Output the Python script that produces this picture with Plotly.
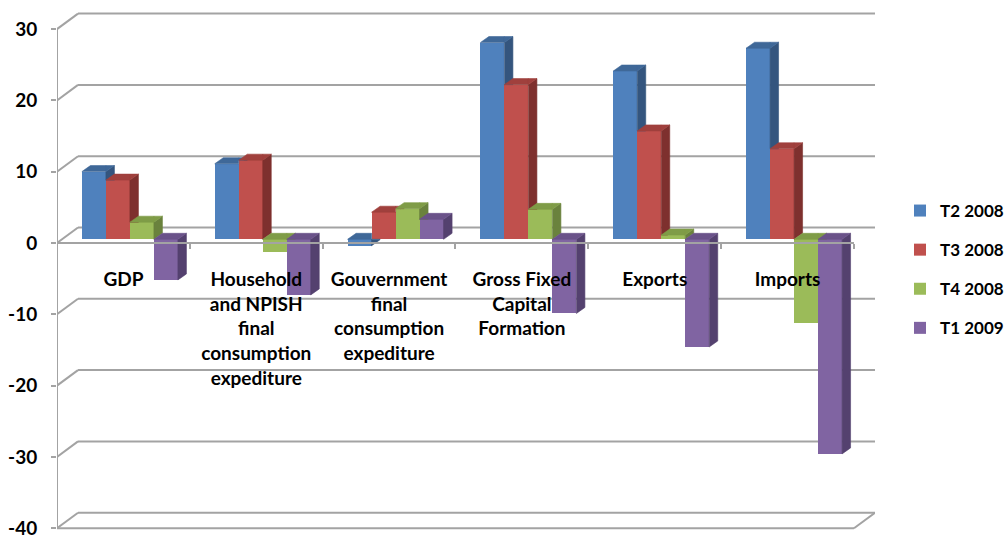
import plotly.graph_objects as go

# ---- data -------------------------------------------------------------
categories = ["GDP", "Household and NPISH final consumption expediture",
              "Gouvernment final consumption expediture",
              "Gross Fixed Capital Formation", "Exports", "Imports"]
tick_labels = ["GDP",
               "Household<br>and NPISH<br>final<br>consumption<br>expediture",
               "Gouvernment<br>final<br>consumption<br>expediture",
               "Gross Fixed<br>Capital<br>Formation",
               "Exports", "Imports"]
series_names = ["T2 2008", "T3 2008", "T4 2008", "T1 2009"]
t2_2008 = [9.5, 10.6, -0.9, 27.6, 23.6, 26.8]
t3_2008 = [8.3, 11.1, 3.8, 21.7, 15.2, 12.7]
t4_2008 = [2.4, -1.8, 4.3, 4.2, 0.6, -11.7]
t1_2009 = [-5.7, -7.8, 2.8, -10.4, -15.1, -30.1]
y_ticks = [-40, -30, -20, -10, 0, 10, 20, 30]
y_tick_text = ["-40", "-30", "-20", "-10", "0", "10", "20", "30"]

series_values = [t2_2008, t3_2008, t4_2008, t1_2009]

# ---- styling / geometry ----------------------------------------------
FRONT = ["#4F81BD", "#C0504D", "#9BBB59", "#8064A2"]
SIDE = ["#34557E", "#7E302E", "#6A823D", "#54416F"]
TOP = ["#3F6898", "#A0403D", "#7F9C47", "#6A5289"]
GRID = "#A3A3A3"
FONT = "Lato, Carlito, Calibri, sans-serif"

W, H = 1007, 535
PL, PR, PT, PB = 57, 875, 8, 533          # plot area in pixels
CAT_PX = 132.83                           # pixels per category
VAL_PX = 7.13                             # pixels per value unit
ZERO_PX = 243                             # pixel row of the front zero line

XPP = 1.0 / CAT_PX
YPP = 1.0 / VAL_PX
x_lo = -0.5
x_hi = x_lo + (PR - PL) * XPP
y_hi = (ZERO_PX - PT) * YPP
y_lo = (ZERO_PX - PB) * YPP

BACK_DX, BACK_DY = 21 * XPP, 15.5 * YPP     # wall depth
SHIFT_X, SHIFT_Y = 6.5 * XPP, 3.7 * YPP     # bar plane depth
DEPTH_X, DEPTH_Y = 8.5 * XPP, 6.0 * YPP     # bar thickness
BAR_W = 24 * XPP
n_cat = len(categories)
front_right = x_lo + n_cat


def clip_half(poly, axis, bound, keep_greater):
    out = []
    n = len(poly)
    if n == 0:
        return out

    def inside(p):
        return p[axis] >= bound if keep_greater else p[axis] <= bound

    def cross(a, b):
        t = (bound - a[axis]) / (b[axis] - a[axis])
        return (a[0] + t * (b[0] - a[0]), a[1] + t * (b[1] - a[1]))

    for i in range(n):
        cur, prev = poly[i], poly[i - 1]
        ci, pi = inside(cur), inside(prev)
        if ci:
            if not pi:
                out.append(cross(prev, cur))
            out.append(cur)
        elif pi:
            out.append(cross(prev, cur))
    return out


def area(poly):
    s = 0.0
    for i in range(len(poly)):
        x1, y1 = poly[i - 1]
        x2, y2 = poly[i]
        s += x1 * y2 - x2 * y1
    return abs(s) / 2


def subtract_rect(poly, rect):
    if rect is None:
        return [poly]
    rx0, rx1, ry0, ry1 = rect
    mid = clip_half(clip_half(poly, 0, rx0, True), 0, rx1, False)
    pieces = [
        clip_half(poly, 0, rx0, False),
        clip_half(poly, 0, rx1, True),
        clip_half(mid, 1, ry1, True),
        clip_half(mid, 1, ry0, False),
    ]
    return [p for p in pieces if len(p) >= 3 and area(p) > 1e-7]


def bar_offset(k):
    return (-48 + 24 * k) * XPP + SHIFT_X


fig = go.Figure()

# front faces
for k, (name, vals) in enumerate(zip(series_names, series_values)):
    fig.add_trace(go.Bar(
        x=list(range(n_cat)), y=vals, base=SHIFT_Y, name=name,
        width=BAR_W, offset=bar_offset(k),
        marker=dict(color=FRONT[k], line=dict(width=0)),
        legendgroup=name, hovertemplate="%{y}<extra>" + name + "</extra>",
    ))

# side and top faces, painted left to right
for k, vals in enumerate(series_values):
    side_x, side_y, top_x, top_y = [], [], [], []
    for i, v in enumerate(vals):
        xl = i + bar_offset(k)
        xr = xl + BAR_W
        lo = SHIFT_Y + min(v, 0)
        hi = SHIFT_Y + max(v, 0)
        side = [(xr, lo), (xr, hi), (xr + DEPTH_X, hi + DEPTH_Y), (xr + DEPTH_X, lo + DEPTH_Y)]
        top = [(xl, hi), (xr, hi), (xr + DEPTH_X, hi + DEPTH_Y), (xl + DEPTH_X, hi + DEPTH_Y)]
        rect = None
        if k + 1 < len(series_values):
            v2 = series_values[k + 1][i]
            rect = (xr, xr + BAR_W, SHIFT_Y + min(v2, 0), SHIFT_Y + max(v2, 0))
        for poly, xs, ys in ((side, side_x, side_y), (top, top_x, top_y)):
            for piece in subtract_rect(poly, rect):
                xs.extend([p[0] for p in piece] + [piece[0][0], None])
                ys.extend([p[1] for p in piece] + [piece[0][1], None])
    for xs, ys, col in ((side_x, side_y, SIDE[k]), (top_x, top_y, TOP[k])):
        fig.add_trace(go.Scatter(
            x=xs, y=ys, mode="lines", fill="toself", fillcolor=col,
            line=dict(color=col, width=0.6), showlegend=False, hoverinfo="skip",
        ))

# walls, gridlines and axis lines
shapes = []
for v in y_ticks:
    shapes.append(dict(type="line", layer="below", x0=x_lo + BACK_DX, x1=x_hi,
                       y0=v + BACK_DY, y1=v + BACK_DY, line=dict(color=GRID, width=2)))
    shapes.append(dict(type="line", layer="below", x0=x_lo, x1=x_lo + BACK_DX,
                       y0=v, y1=v + BACK_DY, line=dict(color=GRID, width=2)))
floor = min(y_ticks)
shapes.append(dict(type="line", layer="below", x0=x_lo, x1=front_right, y0=floor, y1=floor,
                   line=dict(color=GRID, width=2)))
shapes.append(dict(type="line", layer="below", x0=front_right, x1=front_right + BACK_DX,
                   y0=floor, y1=floor + BACK_DY, line=dict(color=GRID, width=2)))
shapes.append(dict(type="line", layer="above", x0=x_lo, x1=x_lo, y0=floor, y1=max(y_ticks),
                   line=dict(color=GRID, width=2)))
shapes.append(dict(type="line", layer="above", x0=x_lo, x1=front_right, y0=0, y1=0,
                   line=dict(color=GRID, width=2)))

label_font = dict(family=FONT, size=19, color="#000000", weight="bold")
legend_font = dict(family=FONT, size=17, color="#000000", weight="bold")

fig.update_layout(
    width=W, height=H,
    margin=dict(l=PL, r=W - PR, t=PT, b=H - PB, pad=0, autoexpand=False),
    paper_bgcolor="white", plot_bgcolor="white",
    barmode="overlay", bargap=0,
    shapes=shapes,
    font=label_font,
    showlegend=True,
    legend=dict(x=(900 - PL) / (PR - PL), y=(PB - 193) / (PB - PT), xanchor="left", yanchor="top",
                font=legend_font, tracegroupgap=14, bgcolor="rgba(0,0,0,0)"),
    xaxis=dict(type="linear", range=[x_lo, x_hi], showgrid=False, zeroline=False,
               showline=False, tickmode="array", tickvals=list(range(n_cat)),
               ticktext=tick_labels, ticks="", tickangle=0, anchor="free",
               position=(PB - ZERO_PX) / (PB - PT), ticklabelstandoff=23,
               ticklabeloverflow="allow", tickfont=label_font,
               minor=dict(tickmode="array", tickvals=[i + 0.5 for i in range(n_cat)],
                          ticks="outside", ticklen=5, tickwidth=2, tickcolor=GRID),
               fixedrange=True),
    yaxis=dict(range=[y_lo, y_hi], showgrid=False, zeroline=False, showline=False,
               tickmode="array", tickvals=y_ticks, ticktext=y_tick_text,
               ticks="outside", ticklen=5, tickwidth=2, tickcolor=GRID,
               ticklabelstandoff=10, ticklabeloverflow="allow",
               tickfont=label_font, fixedrange=True),
)

fig.write_html("out.html")
